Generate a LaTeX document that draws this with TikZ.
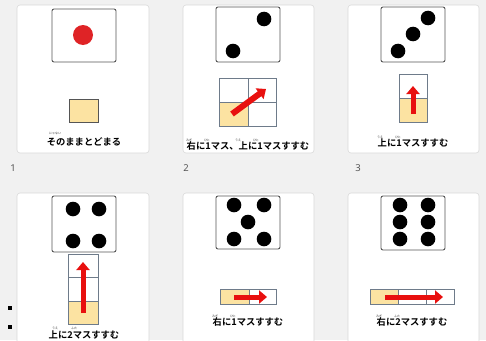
\documentclass[tikz,border=0pt]{standalone}
\usepackage{fontspec}
\newfontfamily\jp{Noto Sans CJK JP}[BoldFont={Noto Sans CJK JP Bold}]
\setmainfont{Noto Sans}
\usetikzlibrary{arrows.meta}
\definecolor{bg}{HTML}{F1F1F1}
\definecolor{cardline}{HTML}{DADADA}
\definecolor{diceline}{HTML}{555555}
\definecolor{gridline}{HTML}{6E7B8A}
\definecolor{cell}{HTML}{FCE3A2}
\definecolor{arrowred}{HTML}{E8100F}
\definecolor{dotred}{HTML}{DF2326}
\definecolor{numgray}{HTML}{555555}
\tikzset{
  card/.style={fill=white,draw=cardline,line width=0.6pt,rounded corners=3pt},
  dice/.style={fill=white,draw=diceline,line width=0.9pt,rounded corners=2pt},
  pip/.style={fill=black,draw=none},
  cellbox/.style={draw=gridline,line width=0.8pt},
  yell/.style={fill=cell,draw=none},
  redarrow/.style={draw=arrowred,line width=5pt,-{Triangle[length=8pt,width=13pt]}},
  caption/.style={font=\jp\bfseries\fontsize{9.3}{10}\selectfont,inner sep=0pt,anchor=base},
  ruby/.style={font=\jp\fontsize{3}{3}\selectfont,inner sep=0pt,text=black!80},
  num/.style={font=\fontsize{9.5}{10}\selectfont,text=numgray,inner sep=0pt}
}
\begin{document}
\begin{tikzpicture}[x=1pt,y=-1pt]
\useasboundingbox (0,0) rectangle (486,340);
\clip (0,0) rectangle (486,340);
\fill[bg] (0,0) rectangle (486,340);
% ---------- cards ----------
\draw[card] (17,5) rectangle (149,153);
\draw[card] (183,5) rectangle (314,153);
\draw[card] (348,5) rectangle (479,153);
\draw[card] (17,193) rectangle (149,350);
\draw[card] (183,193) rectangle (314,350);
\draw[card] (348,193) rectangle (479,350);
% numbers
\node[num] (n1) at (13,168) {1};
\node[num] (n2) at (186,168) {2};
\node[num] (n3) at (358,168) {3};
% ---------- card 1 ----------
\draw[dice] (52,9) rectangle (116,62);
\fill[dotred] (83,35) circle (10);
\draw[fill=cell,draw=diceline,line width=0.8pt] (69,99) rectangle (98,122);
\node[ruby] (r1) at (55,133.5) {にゃない};
\node[caption] (t1) at (84,145) {そのままとどまる};
% ---------- card 2 ----------
\draw[dice] (216,7) rectangle (280,62);
\fill[pip] (264,19) circle (7.3);
\fill[pip] (233,51) circle (7.3);
\fill[yell] (219,102) rectangle (248,126);
\draw[cellbox] (219,78) rectangle (276,126);
\draw[cellbox] (248,78) -- (248,126);
\draw[cellbox] (219,102) -- (276,102);
\coordinate (a2s) at (232,114);
\coordinate (a2e) at (266,89);
\draw[redarrow,line width=6pt] (a2s) -- (a2e);
\node[caption] (t2) at (248,149) {右に1マス、上に1マスすすむ};
\node[ruby] at (189,140) {みぎ};
\node[ruby] at (207,140) {ひと};
\node[ruby] at (238,140) {うえ};
\node[ruby] at (256,140) {ひと};
% ---------- card 3 ----------
\draw[dice] (381,7) rectangle (445,62);
\fill[pip] (428,18) circle (7.3);
\fill[pip] (413,34) circle (7.3);
\fill[pip] (398,51) circle (7.3);
\fill[yell] (399,98) rectangle (427,122);
\draw[cellbox] (399,74) rectangle (427,122);
\draw[cellbox] (399,98) -- (427,98);
\coordinate (a3s) at (413,114);
\coordinate (a3e) at (413,86);
\draw[redarrow] (a3s) -- (a3e);
\node[caption] (t3) at (413,146) {上に1マスすすむ};
\node[ruby] at (380,137) {うえ};
\node[ruby] at (398,137) {ひと};
% ---------- card 4 ----------
\draw[dice] (52,196) rectangle (116,252);
\fill[pip] (73,209) circle (7.3);
\fill[pip] (99,209) circle (7.3);
\fill[pip] (73,241) circle (7.3);
\fill[pip] (99,241) circle (7.3);
\fill[yell] (68,301) rectangle (98,324);
\draw[cellbox] (68,254) rectangle (98,324);
\draw[cellbox] (68,277) -- (98,277);
\draw[cellbox] (68,301) -- (98,301);
\coordinate (a4s) at (83,313);
\coordinate (a4e) at (83,262);
\draw[redarrow] (a4s) -- (a4e);
\node[caption] (t4) at (84,338.5) {上に2マスすすむ};
\node[ruby] at (55,328.5) {うえ};
\node[ruby] at (74,328.5) {ふた};
\fill[black] (8,305.5) rectangle (12,310);
\fill[black] (8,324.5) rectangle (12,329);
% ---------- card 5 ----------
\draw[dice] (216,196) rectangle (280,249);
\fill[pip] (234,205) circle (7.3);
\fill[pip] (264,205) circle (7.3);
\fill[pip] (248,222) circle (7.3);
\fill[pip] (234,239) circle (7.3);
\fill[pip] (264,239) circle (7.3);
\fill[yell] (220,289) rectangle (249,304);
\draw[cellbox] (220,289) rectangle (276,304);
\draw[cellbox] (249,289) -- (249,304);
\coordinate (a5s) at (234,297);
\coordinate (a5e) at (267,297);
\draw[redarrow] (a5s) -- (a5e);
\node[caption] (t5) at (248,325.5) {右に1マスすすむ};
\node[ruby] at (215,316) {みぎ};
\node[ruby] at (233,316) {ひと};
% ---------- card 6 ----------
\draw[dice] (381,196) rectangle (445,250);
\fill[pip] (400,205) circle (7.3);
\fill[pip] (428,205) circle (7.3);
\fill[pip] (400,222) circle (7.3);
\fill[pip] (428,222) circle (7.3);
\fill[pip] (400,239) circle (7.3);
\fill[pip] (428,239) circle (7.3);
\fill[yell] (370,289) rectangle (398,304);
\draw[cellbox] (370,289) rectangle (454,304);
\draw[cellbox] (398,289) -- (398,304);
\draw[cellbox] (426,289) -- (426,304);
\coordinate (a6s) at (385,297);
\coordinate (a6e) at (443,297);
\draw[redarrow] (a6s) -- (a6e);
\node[caption] (t6) at (412,325.5) {右に2マスすすむ};
\node[ruby] at (379,316) {みぎ};
\node[ruby] at (397,316) {ふた};
\end{tikzpicture}
\end{document}
